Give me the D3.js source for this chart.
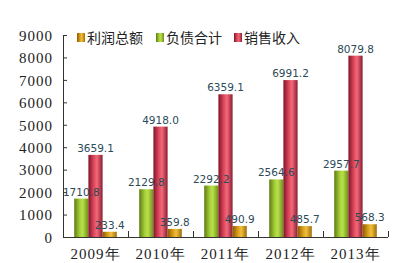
<!DOCTYPE html>
<html>
<head>
<meta charset="utf-8">
<script src="https://d3js.org/d3.v7.min.js"></script>
<style>
    body { margin: 0; background: #fff; }
    .tick text { font-family: "Liberation Serif", "DejaVu Serif", serif; font-size: 15px; fill: #222; letter-spacing: 1px; }
    .axis path, .axis line { stroke: #333; }
    .lbl { font-family: "DejaVu Sans", Verdana, sans-serif; font-size: 10.5px; fill: #2c4a57; }
    .legend text { font-family: "Noto Sans CJK SC", sans-serif; font-size: 14px; fill: #222; }
</style>
</head>
<body>
<svg width="418" height="263"></svg>
<script>
    // data
    var years = ["2009年", "2010年", "2011年", "2012年", "2013年"];
    var profit = [233.4, 359.8, 490.9, 485.7, 568.3];      // 利润总额
    var debt = [1710.8, 2129.8, 2292.2, 2564.6, 2957.7];   // 负债合计
    var sales = [3659.1, 4918.0, 6359.1, 6991.2, 8079.8];  // 销售收入
    var yTicks = [0, 1000, 2000, 3000, 4000, 5000, 6000, 7000, 8000, 9000];

    var series = [
        {name: "负债合计", values: debt, id: "gGreen"},
        {name: "销售收入", values: sales, id: "gRed"},
        {name: "利润总额", values: profit, id: "gGold"}
    ];
    var legendOrder = [series[2], series[0], series[1]];

    var svg = d3.select("svg");
    var plotLeft = 63, plotRight = 388, plotTop = 35, plotBottom = 237;

    // cylinder-ish gradients
    var defs = svg.append("defs");
    var grads = {
        gGreen: ["#5f7a12", "#a6d23a", "#b8e04a", "#6f8c18"],
        gRed: ["#7e1428", "#e24a60", "#f26a7a", "#8a1c30"],
        gGold: ["#8c5c00", "#dca21e", "#f0c040", "#a06c06"]
    };
    Object.keys(grads).forEach(function(k) {
        var g = defs.append("linearGradient").attr("id", k)
            .attr("x1", "0%").attr("x2", "100%").attr("y1", "0%").attr("y2", "0%");
        g.append("stop").attr("offset", "0%").attr("stop-color", grads[k][0]);
        g.append("stop").attr("offset", "40%").attr("stop-color", grads[k][1]);
        g.append("stop").attr("offset", "60%").attr("stop-color", grads[k][2]);
        g.append("stop").attr("offset", "100%").attr("stop-color", grads[k][3]);
    });

    var x = d3.scaleBand().domain(years).range([plotLeft, plotRight]).paddingInner(0).paddingOuter(0);
    var x1 = d3.scaleBand().domain([0, 1, 2]).range([0, x.bandwidth()]).paddingOuter(0.79).paddingInner(0);
    var y = d3.scaleLinear().domain([0, 9000]).range([plotBottom, plotTop]);

    // y axis
    svg.append("g")
        .attr("class", "axis")
        .attr("transform", "translate(" + plotLeft + ",0)")
        .call(d3.axisRight(y).tickValues(yTicks).tickSize(4).tickFormat(d3.format("d")))
        .call(function(g) {
            g.select(".domain").attr("d", "M0.5," + plotBottom + "V" + plotTop);
            g.selectAll(".tick text").attr("x", -10).attr("text-anchor", "end").attr("dy", "0.35em");
        });

    // x axis
    svg.append("g")
        .attr("class", "axis")
        .attr("transform", "translate(0," + plotBottom + ")")
        .call(d3.axisBottom(x).tickSize(0).tickPadding(10))
        .call(function(g) {
            g.select(".domain").attr("d", "M" + plotLeft + ",0.5H" + plotRight);
            g.selectAll(".tick text").style("font-size", "15px").attr("dy", "0.8em");
        });
    // category separators
    svg.append("g").selectAll("line")
        .data(years.concat(["end"]))
        .enter().append("line")
        .attr("x1", function(d, i) { return plotLeft + i * x.bandwidth() + 0.5; })
        .attr("x2", function(d, i) { return plotLeft + i * x.bandwidth() + 0.5; })
        .attr("y1", plotBottom).attr("y2", plotBottom - 6)
        .attr("stroke", "#333");

    // bars
    series.forEach(function(s, si) {
        var g = svg.append("g");
        g.selectAll("rect")
            .data(s.values)
            .enter().append("rect")
            .attr("x", function(d, i) { return x(years[i]) + x1(si); })
            .attr("y", function(d) { return y(d); })
            .attr("width", x1.bandwidth())
            .attr("height", function(d) { return plotBottom - y(d); })
            .attr("fill", "url(#" + s.id + ")");
    });
    series.forEach(function(s, si) {
        svg.append("g").selectAll("text")
            .data(s.values)
            .enter().append("text")
            .attr("class", "lbl")
            .attr("x", function(d, i) { return x(years[i]) + x1(si) + x1.bandwidth() / 2; })
            .attr("y", function(d) { return y(d) - 3; })
            .attr("text-anchor", "middle")
            .text(function(d) { return d.toFixed(1); });
    });

    // legend
    var legendX = [77, 156, 234];
    var legend = svg.append("g").attr("class", "legend");
    legendOrder.forEach(function(s, i) {
        legend.append("rect")
            .attr("x", legendX[i]).attr("y", 33)
            .attr("width", 8).attr("height", 9)
            .attr("fill", "url(#" + s.id + ")");
        legend.append("text")
            .attr("x", legendX[i] + 10).attr("y", 43)
            .text(s.name);
    });
</script>
</body>
</html>
